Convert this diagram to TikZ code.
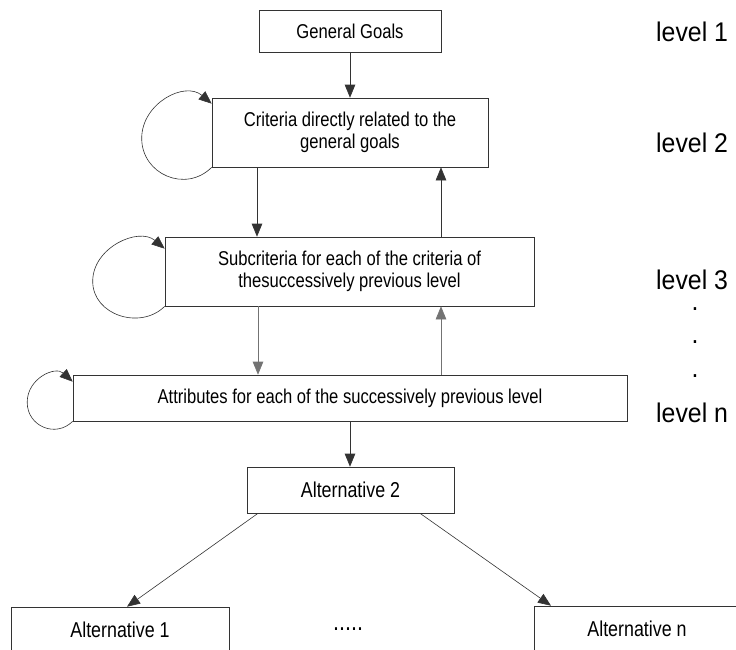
\documentclass[tikz,border=0pt]{standalone}
\usepackage{fontspec}
\setmainfont{Liberation Sans}[FakeStretch=0.83]
\newfontfamily\lvlfont{Liberation Sans}[FakeStretch=0.92]
\usetikzlibrary{arrows.meta}
\tikzset{
  box/.style={draw=black!80, line width=0.6pt, rectangle, inner sep=0pt,
    align=center, font=\fontsize{20}{22}\selectfont},
  altbox/.style={box, minimum height=46pt, font=\fontsize{21.5}{24}\selectfont},
  lvl/.style={anchor=west, inner sep=0pt, font=\lvlfont\fontsize{27}{30}\selectfont},
  lvldot/.style={lvl, anchor=base},
  arr/.style={draw=black!80, line width=0.6pt, -{Triangle[length=13pt,width=10.5pt]}},
  faint/.style={draw=black!55}
}
\begin{document}
\begin{tikzpicture}[x=1pt, y=-1pt]
      \clip (0,0) rectangle (736,649);
      \draw
        (350,31) node[box, minimum width=182pt, minimum height=42pt] (goals){General Goals}
        (350,132.5) node[box, minimum width=276pt, minimum height=69pt] (crit){Criteria directly related to the\\general goals}
        (349.5,271.5) node[box, minimum width=369pt, minimum height=69pt] (subcrit){Subcriteria for each of the criteria of\\thesuccessively previous level}
        (350,398) node[box, minimum width=554pt, minimum height=46pt] (attr){Attributes for each of the successively previous level}
        (350.5,490) node[altbox, minimum width=207pt] (alttwo){Alternative 2}
        (120,630) node[altbox, minimum width=218pt] (altone){Alternative 1}
        (637,629) node[altbox, minimum width=206pt] (altn){Alternative n}
        (348,630) node[anchor=base, inner sep=0pt, font=\fontsize{26}{28}\selectfont] (more){.....};
      \draw
        (656,32) node[lvl] (lvlone){level 1}
        (656,143) node[lvl] (lvltwo){level 2}
        (656,280) node[lvl] (lvlthree){level 3}
        (695,310) node[lvldot] (dota){.}
        (695,343) node[lvldot] (dotb){.}
        (695,377.5) node[lvldot] (dotc){.}
        (656,413) node[lvl] (lvln){level n};
      \begin{scope}[arr]
        \draw (goals) to (crit);
        \draw ([xshift=-93pt]crit.south) to ([xshift=-93pt]crit.south |- subcrit.north);
        \draw ([xshift=91.5pt]subcrit.north) to ([xshift=91.5pt]subcrit.north |- crit.south);
        \draw[faint] ([xshift=-91.5pt]subcrit.south) to ([xshift=-91.5pt]subcrit.south |- attr.north);
        \draw[faint] ([xshift=91pt]attr.north) to ([xshift=91pt]attr.north |- subcrit.south);
        \draw (attr.south) to (attr.south |- alttwo.north);
        \draw ([xshift=-92.5pt]alttwo.south) to ([xshift=7pt]altone.north);
        \draw ([xshift=69.5pt]alttwo.south) to ([xshift=-86pt]altn.north);
        % self loops on the left of the criteria levels
        \draw (crit.south west) .. controls +(-26,26) and +(0,36) .. ++(-70,-29)
          .. controls +(0,-35) and +(-27,-23) .. ([yshift=-6pt]crit.north west);
        \draw (subcrit.south west) .. controls +(-24,24) and +(0,34) .. ++(-72,-25)
          .. controls +(0,-34) and +(-26,-22) .. ([yshift=-12pt]subcrit.north west);
        \draw (attr.south west) .. controls +(-17,17) and +(0,24) .. ++(-45.5,-19)
          .. controls +(0,-24) and +(-17.5,-16) .. ([yshift=-7pt]attr.north west);
      \end{scope}
    \end{tikzpicture}
\end{document}
